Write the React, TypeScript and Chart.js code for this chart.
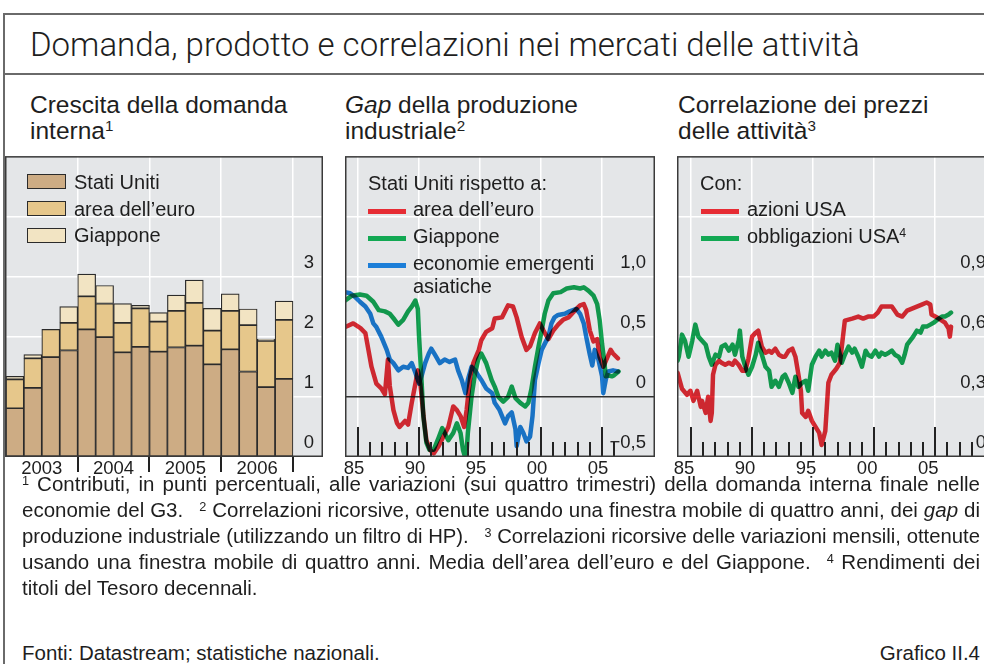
import React, { useEffect, useLayoutEffect, useRef } from 'react';
import { Chart, registerables } from 'chart.js';

Chart.register(...registerables);

const FONT = '"Liberation Sans", Arial, Helvetica, sans-serif';
const TITLE_FONT = 'Roboto, "Liberation Sans", Arial, sans-serif';
const TEXT = '#1e1e1e';
const PLOT_BG = '#e4e6e8';
const FRAME = '#3a3a3a';
const TICK = '#222222';
const OUTER = '#6a6a6a';

const US_COLOR = '#cdac84';
const EURO_COLOR = '#e6c78b';
const JAPAN_COLOR = '#f2e4c3';
const BAR_BORDER = '#2b2b2b';
const RED = '#e62c34';
const GREEN = '#12a853';
const BLUE = '#1c7ed8';

// ---------- Panel 1: Crescita della domanda interna ----------
const quarters = ['2003 T1', '2003 T2', '2003 T3', '2003 T4', '2004 T1', '2004 T2', '2004 T3', '2004 T4',
  '2005 T1', '2005 T2', '2005 T3', '2005 T4', '2006 T1', '2006 T2', '2006 T3', '2006 T4'];
const usContrib = [0.81, 1.15, 1.66, 1.77, 2.12, 1.99, 1.74, 1.83, 1.75, 1.82, 1.85, 1.54, 1.79, 1.42, 1.16, 1.30];
const euroContrib = [0.48, 0.49, 0.46, 0.46, 0.55, 0.56, 0.49, 0.64, 0.50, 0.61, 0.71, 0.56, 0.64, 0.77, 0.77, 0.98];
const japanContrib = [0.05, 0.06, 0.00, 0.27, 0.37, 0.30, 0.32, 0.05, 0.15, 0.26, 0.38, 0.37, 0.28, 0.27, 0.03, 0.31];
const demandYears = ['2003', '2004', '2005', '2006'];
const demandGrid = [0, 1, 2, 3, 4, 5];
const demandTickLabels = ['0', '1', '2', '3', '', ''];

// ---------- Panel 2: Gap della produzione industriale ----------
const gapEuroYears = [1983.95, 1984.6, 1985.2, 1985.6, 1985.85, 1986.1, 1986.5, 1986.9, 1987.2, 1987.45, 1987.6, 1987.9,
  1988.2, 1988.4, 1988.85, 1989.1, 1989.4, 1989.7, 1989.9, 1990.1, 1990.4, 1990.6, 1990.9, 1991.2, 1991.6, 1992.0,
  1992.4, 1992.8, 1993.1, 1993.4, 1993.7, 1993.9, 1994.2, 1994.45, 1994.9, 1995.1, 1995.5, 1996.0, 1996.2, 1996.8,
  1997.3, 1997.7, 1998.0, 1998.4, 1998.8, 1999.1, 1999.5, 1999.9, 2000.2, 2000.6, 2001.0, 2001.4, 2001.8, 2002.25,
  2002.8, 2003.2, 2003.5, 2003.7, 2004.0, 2004.3, 2004.6, 2004.8, 2005.1, 2005.4, 2005.7, 2005.9, 2006.3];
const gapEuroValues = [0.58, 0.61, 0.57, 0.53, 0.39, 0.25, 0.11, 0.07, 0.02, 0.31, 0.09, -0.11,
  -0.22, -0.25, -0.20, -0.23, -0.05, 0.11, 0.22, 0.11, -0.19, -0.36, -0.44, -0.47, -0.41, -0.33,
  -0.25, -0.08, -0.11, -0.16, -0.25, -0.11, 0.17, 0.28, 0.39, 0.47, 0.54, 0.57, 0.65, 0.66,
  0.76, 0.75, 0.66, 0.50, 0.39, 0.42, 0.53, 0.61, 0.55, 0.48, 0.55, 0.60, 0.64, 0.66,
  0.72, 0.76, 0.77, 0.72, 0.55, 0.46, 0.48, 0.33, 0.25, 0.32, 0.39, 0.36, 0.32];

const gapJapanYears = [1983.93, 1984.5, 1985.15, 1985.7, 1986.25, 1986.7, 1987.2, 1987.6, 1988.0, 1988.3, 1988.7, 1989.1,
  1989.4, 1989.7, 1989.9, 1990.0, 1990.2, 1990.35, 1990.6, 1990.85, 1991.2, 1991.6, 1991.9, 1992.1, 1992.4, 1992.8,
  1993.1, 1993.4, 1993.6, 1993.85, 1994.0, 1994.3, 1994.6, 1994.85, 1995.1, 1995.5, 1995.95, 1996.2, 1996.5, 1996.9,
  1997.3, 1997.6, 1997.9, 1998.3, 1998.7, 1998.96, 1999.2, 1999.5, 1999.8, 2000.05, 2000.3, 2000.6, 2001.0, 2001.6,
  2002.1, 2002.7, 2003.2, 2003.5, 2003.9, 2004.3, 2004.6, 2004.8, 2005.0, 2005.2, 2005.3, 2005.5, 2005.8, 2006.0, 2006.35];
const gapJapanValues = [0.80, 0.84, 0.85, 0.84, 0.79, 0.72, 0.71, 0.69, 0.64, 0.60, 0.64, 0.71,
  0.75, 0.80, 0.73, 0.50, 0.14, -0.16, -0.38, -0.44, -0.44, -0.34, -0.26, -0.30, -0.36, -0.30,
  -0.22, -0.30, -0.44, -0.53, -0.30, 0.00, 0.20, 0.31, 0.36, 0.28, 0.14, 0.085, 0.00, -0.04,
  0.00, 0.085, -0.01, -0.05, -0.08, -0.05, 0.06, 0.25, 0.42, 0.55, 0.69, 0.80, 0.86, 0.87,
  0.90, 0.91, 0.90, 0.91, 0.88, 0.84, 0.77, 0.64, 0.44, 0.28, 0.17, 0.18, 0.17, 0.18, 0.21];

const gapAsiaYears = [1983.93, 1984.35, 1984.75, 1985.15, 1985.6, 1986.0, 1986.25, 1986.5, 1986.9, 1987.35, 1987.6, 1987.9,
  1988.3, 1988.7, 1989.1, 1989.4, 1989.7, 1990.0, 1990.2, 1990.5, 1990.8, 1991.0, 1991.3, 1991.7, 1992.1, 1992.5,
  1992.95, 1993.2, 1993.5, 1993.8, 1994.0, 1994.3, 1994.6, 1994.9, 1995.1, 1995.5, 1996.0, 1996.2, 1996.6, 1997.05,
  1997.3, 1997.6, 1997.9, 1998.0, 1998.3, 1998.55, 1998.8, 1999.1, 1999.3, 1999.5, 1999.8, 2000.05, 2000.3, 2000.6,
  2000.85, 2001.1, 2001.4, 2001.95, 2002.35, 2002.9, 2003.2, 2003.5, 2003.7, 2004.0, 2004.2, 2004.4, 2004.7, 2005.0,
  2005.1, 2005.3, 2005.5, 2005.9, 2006.3];
const gapAsiaValues = [0.87, 0.86, 0.83, 0.79, 0.75, 0.69, 0.61, 0.58, 0.50, 0.39, 0.31, 0.28,
  0.22, 0.25, 0.24, 0.28, 0.20, 0.11, 0.17, 0.28, 0.36, 0.40, 0.35, 0.28, 0.31, 0.29,
  0.31, 0.22, 0.14, 0.03, 0.14, 0.25, 0.22, 0.17, 0.14, 0.07, 0.03, -0.05, -0.11, -0.22,
  -0.16, -0.13, -0.27, -0.41, -0.25, -0.30, -0.37, -0.33, -0.16, 0.14, 0.28, 0.39, 0.44, 0.50,
  0.61, 0.66, 0.68, 0.69, 0.71, 0.73, 0.69, 0.61, 0.50, 0.35, 0.26, 0.39, 0.31, 0.17,
  0.03, 0.14, 0.21, 0.22, 0.21];

const gapGrid = [-0.5, 0, 0.5, 1, 1.5, 2];
const gapTickLabels = ['−0,5', '0', '0,5', '1,0', '', ''];

// ---------- Panel 3: Correlazione dei prezzi delle attività ----------
const corrStockYears = [1983.9, 1984.26, 1984.67, 1984.95, 1985.2, 1985.5, 1985.8, 1985.9, 1986.2, 1986.4, 1986.6, 1986.7,
  1986.8, 1987.0, 1987.3, 1987.5, 1987.8, 1988.1, 1988.4, 1988.6, 1988.9, 1989.2, 1989.45, 1989.7, 1990.0, 1990.3,
  1990.5, 1990.8, 1991.1, 1991.4, 1991.6, 1991.9, 1992.2, 1992.5, 1992.7, 1993.0, 1993.3, 1993.55, 1993.8, 1994.0,
  1994.1, 1994.4, 1994.6, 1994.9, 1995.2, 1995.5, 1995.7, 1996.0, 1996.25, 1996.5, 1996.9, 1997.2, 1997.35, 1997.6,
  1998.2, 1998.7, 1999.1, 1999.5, 1999.95, 2000.3, 2000.6, 2001.0, 2001.45, 2001.9, 2002.3, 2002.7, 2003.1, 2003.5,
  2003.9, 2004.3, 2004.6, 2004.7, 2005.0, 2005.3, 2005.55, 2005.8, 2006.1, 2006.2, 2006.3];
const corrStockValues = [0.42, 0.34, 0.31, 0.33, 0.28, 0.33, 0.25, 0.28, 0.22, 0.30, 0.18, 0.22,
  0.41, 0.46, 0.48, 0.47, 0.46, 0.47, 0.46, 0.48, 0.46, 0.43, 0.43, 0.49, 0.60, 0.62,
  0.63, 0.55, 0.52, 0.53, 0.52, 0.54, 0.51, 0.50, 0.50, 0.53, 0.54, 0.50, 0.41, 0.33,
  0.22, 0.20, 0.23, 0.18, 0.15, 0.12, 0.06, 0.13, 0.37, 0.41, 0.44, 0.47, 0.55, 0.68,
  0.69, 0.70, 0.69, 0.70, 0.70, 0.72, 0.75, 0.75, 0.75, 0.71, 0.70, 0.73, 0.74, 0.75,
  0.76, 0.77, 0.76, 0.71, 0.70, 0.69, 0.68, 0.67, 0.64, 0.60, 0.65];

const corrBondYears = [1983.9, 1984.0, 1984.26, 1984.5, 1984.8, 1985.1, 1985.35, 1985.6, 1985.9, 1986.2, 1986.45, 1986.7,
  1987.0, 1987.3, 1987.5, 1987.8, 1988.1, 1988.4, 1988.6, 1988.9, 1989.0, 1989.2, 1989.45, 1989.7, 1990.0, 1990.3,
  1990.5, 1990.8, 1991.1, 1991.4, 1991.6, 1991.9, 1992.2, 1992.5, 1992.7, 1993.0, 1993.3, 1993.55, 1993.8, 1994.1,
  1994.4, 1994.6, 1994.9, 1995.2, 1995.5, 1995.7, 1996.0, 1996.25, 1996.5, 1996.8, 1997.0, 1997.35, 1997.6, 1997.9,
  1998.2, 1998.4, 1998.7, 1999.0, 1999.3, 1999.5, 1999.8, 2000.1, 2000.4, 2000.6, 2000.9, 2001.2, 2001.45, 2001.7,
  2002.0, 2002.3, 2002.5, 2002.7, 2002.95, 2003.2, 2003.5, 2003.8, 2004.0, 2004.3, 2004.6, 2004.9, 2005.3, 2005.55,
  2005.8, 2006.1, 2006.3];
const corrBondValues = [0.48, 0.50, 0.61, 0.58, 0.50, 0.58, 0.66, 0.60, 0.58, 0.56, 0.50, 0.46,
  0.51, 0.50, 0.55, 0.56, 0.53, 0.56, 0.51, 0.58, 0.63, 0.50, 0.45, 0.41, 0.45, 0.51,
  0.57, 0.51, 0.45, 0.43, 0.35, 0.38, 0.35, 0.40, 0.41, 0.37, 0.32, 0.40, 0.35, 0.37,
  0.38, 0.33, 0.46, 0.50, 0.53, 0.50, 0.53, 0.51, 0.52, 0.48, 0.56, 0.47, 0.51, 0.55,
  0.52, 0.54, 0.50, 0.45, 0.53, 0.51, 0.50, 0.53, 0.50, 0.52, 0.51, 0.52, 0.53, 0.51,
  0.50, 0.47, 0.51, 0.56, 0.58, 0.60, 0.63, 0.62, 0.65, 0.65, 0.66, 0.67, 0.69, 0.70,
  0.70, 0.71, 0.72];

const corrGrid = [0, 0.3, 0.6, 0.9, 1.2, 1.5];
const corrTickLabels = ['0', '0,3', '0,6', '0,9', '', ''];

// shared time axis
const fiveYearTicks = [1985, 1990, 1995, 2000, 2005];
const fiveYearLabels = ['85', '90', '95', '00', '05'];
const gapYearMarks = [1985, 1986, 1987, 1988, 1989, 1990, 1991, 1992, 1993, 1994, 1995, 1996, 1997, 1998, 1999,
  2000, 2001, 2002, 2003, 2004, 2005, 2006];
const corrYearMarks = [1985, 1986, 1987, 1988, 1989, 1990, 1991, 1992, 1993, 1994, 1995, 1996, 1997, 1998, 1999,
  2000, 2001, 2002, 2003, 2004, 2005, 2006, 2007, 2008];

const LABEL_AREA = 26;
const PLOT_H = 303;
const PAD_L = 12;

const pairs = (xs: number[], ys: number[]) => xs.map((x, i) => ({ x, y: ys[i] }));

const panelPlugin = {
  id: 'panelFrame',
  beforeDraw(chart: any) {
    const { ctx, chartArea: a } = chart;
    ctx.save();
    ctx.fillStyle = PLOT_BG;
    ctx.fillRect(a.left, a.top, a.right - a.left, a.bottom - a.top);
    ctx.restore();
  },
  beforeDatasetsDraw(chart: any, _args: any, opts: any) {
    if (opts && opts.multiply) {
      chart.ctx.save();
      chart.ctx.globalCompositeOperation = 'multiply';
    }
  },
  afterDatasetsDraw(chart: any, _args: any, opts: any) {
    if (opts && opts.multiply) chart.ctx.restore();
  },
  afterDraw(chart: any, _args: any, opts: any) {
    const { ctx, chartArea: a, scales } = chart;
    const xs = scales.x;
    ctx.save();
    ctx.strokeStyle = TICK;
    ctx.lineWidth = 2;
    const marks = (opts && opts.marks) || [];
    for (let i = 0; i < marks.length; i++) {
      const m = marks[i];
      const px = Math.round(xs.getPixelForValue(m.value));
      ctx.beginPath();
      ctx.moveTo(px, a.bottom);
      ctx.lineTo(px, a.bottom + m.len);
      ctx.stroke();
    }
    ctx.strokeStyle = FRAME;
    ctx.lineWidth = 1.5;
    ctx.strokeRect(a.left + 0.75, a.top + 0.75, a.right - a.left - 1.5, a.bottom - a.top - 1.5);
    ctx.restore();
  },
};

function yAxis(min: number, max: number, grid: number[], labels: string[], zeroDark: boolean) {
  return {
    type: 'linear',
    position: 'right',
    min,
    max,
    afterBuildTicks: (s: any) => { s.ticks = grid.map((v) => ({ value: v })); },
    afterFit: (s: any) => { s.width = 0; },
    border: { display: false },
    grid: {
      drawTicks: false,
      lineWidth: 1.5,
      color: (c: any) => {
        const v = c.tick ? c.tick.value : NaN;
        if (v === min || v === max) return 'rgba(0,0,0,0)';
        if (v === 0 && zeroDark) return '#333333';
        return '#ffffff';
      },
    },
    ticks: {
      mirror: true,
      padding: -9,
      labelOffset: -14,
      autoSkip: false,
      color: TEXT,
      font: { family: FONT, size: 18.5 },
      callback: (_v: any, i: number) => labels[i],
    },
  };
}

function timeAxis(min: number, max: number, labelOffset: number) {
  return {
    type: 'linear',
    min,
    max,
    offset: false,
    afterBuildTicks: (s: any) => { s.ticks = fiveYearTicks.map((v) => ({ value: v })); },
    afterFit: (s: any) => { s.height = LABEL_AREA; },
    border: { display: false },
    grid: { drawTicks: false, lineWidth: 1.5, color: '#ffffff', offset: false },
    ticks: {
      padding: 1,
      labelOffset,
      maxRotation: 0,
      autoSkip: false,
      color: TEXT,
      font: { family: FONT, size: 18.5 },
      callback: (_v: any, i: number) => fiveYearLabels[i],
    },
  };
}

function lineDataset(xs: number[], ys: number[], color: string) {
  return {
    type: 'line',
    data: pairs(xs, ys),
    borderColor: color,
    backgroundColor: color,
    borderWidth: 4.5,
    pointRadius: 0,
    tension: 0,
    fill: false,
    clip: 0,
    borderJoinStyle: 'round',
    borderCapStyle: 'round',
  };
}

const baseOptions = {
  responsive: false,
  animation: false,
  devicePixelRatio: 1,
  events: [],
};

function demandConfig(): any {
  const barDs = (vals: number[], color: string) => ({
    data: quarters.map((_q, i) => ({ x: i + 0.5, y: vals[i] })),
    backgroundColor: color,
    borderColor: BAR_BORDER,
    borderWidth: 1.2,
    borderSkipped: false,
    categoryPercentage: 1,
    barPercentage: 1,
  });
  const xGrid = demandYears.flatMap((_y, i) => [i * 4 + 2, i * 4 + 4]);
  const xLabels = demandYears.flatMap((y) => [y, '']);
  return {
    type: 'bar',
    data: {
      datasets: [barDs(usContrib, US_COLOR), barDs(euroContrib, EURO_COLOR), barDs(japanContrib, JAPAN_COLOR)],
    },
    options: {
      ...baseOptions,
      layout: { padding: 0, autoPadding: false },
      scales: {
        x: {
          type: 'linear',
          min: -0.05,
          max: 17.67,
          stacked: true,
          offset: false,
          afterBuildTicks: (s: any) => { s.ticks = xGrid.map((v) => ({ value: v })); },
          afterFit: (s: any) => { s.height = LABEL_AREA; },
          border: { display: false },
          grid: {
            drawTicks: false,
            offset: false,
            lineWidth: 1.5,
            color: (c: any) => (c.tick && c.tick.value % 4 === 0 ? '#ffffff' : 'rgba(0,0,0,0)'),
          },
          ticks: {
            padding: 1,
            maxRotation: 0,
            autoSkip: false,
            color: TEXT,
            font: { family: FONT, size: 18.5 },
            callback: (_v: any, i: number) => xLabels[i],
          },
        },
        y: { ...yAxis(0, 5, demandGrid, demandTickLabels, false), stacked: true },
      },
      plugins: {
        legend: { display: false },
        tooltip: { enabled: false },
        panelFrame: { marks: [4, 8, 12, 16].map((v) => ({ value: v, len: 15 })), multiply: false },
      },
    },
    plugins: [panelPlugin],
  };
}

function gapConfig(): any {
  return {
    type: 'line',
    data: {
      datasets: [
        lineDataset(gapEuroYears, gapEuroValues, RED),
        lineDataset(gapJapanYears, gapJapanValues, GREEN),
        lineDataset(gapAsiaYears, gapAsiaValues, BLUE),
      ],
    },
    options: {
      ...baseOptions,
      layout: { padding: { left: PAD_L, right: 0, top: 0, bottom: 0 }, autoPadding: false },
      scales: {
        x: timeAxis(1983.93, 2009.34, -4),
        y: yAxis(-0.5, 2, gapGrid, gapTickLabels, true),
      },
      plugins: {
        legend: { display: false },
        tooltip: { enabled: false },
        panelFrame: { marks: gapYearMarks.map((v) => ({ value: v, len: v % 5 === 0 ? -30 : -15 })), multiply: true },
      },
    },
    plugins: [panelPlugin],
  };
}

function corrConfig(): any {
  return {
    type: 'line',
    data: {
      datasets: [
        lineDataset(corrBondYears, corrBondValues, GREEN),
        lineDataset(corrStockYears, corrStockValues, RED),
      ],
    },
    options: {
      ...baseOptions,
      layout: { padding: { left: PAD_L, right: 0, top: 0, bottom: 0 }, autoPadding: false },
      scales: {
        x: timeAxis(1983.85, 2009.9, -7),
        y: yAxis(0, 1.5, corrGrid, corrTickLabels, false),
      },
      plugins: {
        legend: { display: false },
        tooltip: { enabled: false },
        panelFrame: { marks: corrYearMarks.map((v) => ({ value: v, len: v % 5 === 0 ? -30 : -15 })), multiply: true },
      },
    },
    plugins: [panelPlugin],
  };
}

function ChartBox({ left, width, make, padLeft = 0 }: { left: number; width: number; make: () => any; padLeft?: number }) {
  const ref = useRef<HTMLCanvasElement | null>(null);
  const height = PLOT_H + LABEL_AREA;
  const w = width + padLeft;
  useEffect(() => {
    if (!ref.current) return;
    const chart = new Chart(ref.current, make());
    return () => chart.destroy();
  }, []);
  return (
    <div style={{ position: 'absolute', left: left - padLeft, top: 154, width: w, height }}>
      <canvas ref={ref} width={w} height={height} style={{ width: w, height, display: 'block' }} />
    </div>
  );
}

function T({ x, cy, size, children, style }: any) {
  const lh = Math.round(size * 1.2);
  return (
    <div style={{ position: 'absolute', left: x, top: cy - lh / 2, fontSize: size, lineHeight: `${lh}px`,
      whiteSpace: 'nowrap', color: TEXT, ...style }}>{children}</div>
  );
}

function Sup({ children }: any) {
  return <span style={{ fontSize: '0.62em', verticalAlign: '0.5em', lineHeight: 0 }}>{children}</span>;
}

function Gap() {
  return <span style={{ display: 'inline-block', width: 16 }} />;
}

function JLine({ children, width, last }: any) {
  const ref = useRef<HTMLSpanElement | null>(null);
  useLayoutEffect(() => {
    const el = ref.current;
    if (!el || last) return;
    el.style.wordSpacing = '0px';
    el.style.transform = '';
    const w = el.getBoundingClientRect().width;
    const spaces = ((el.textContent || '').match(/ /g) || []).length;
    if (w < width && spaces) el.style.wordSpacing = `${(width - w) / spaces}px`;
    else if (w > width) el.style.transform = `scaleX(${width / w})`;
  }, []);
  return (
    <div style={{ height: 26, lineHeight: '26px', whiteSpace: 'nowrap' }}>
      <span ref={ref} style={{ display: 'inline-block', transformOrigin: 'left center' }}>{children}</span>
    </div>
  );
}

function LegendBox({ x, cy, color }: any) {
  return <div style={{ position: 'absolute', left: x, top: cy - 7.5, width: 39, height: 15, boxSizing: 'border-box',
    background: color, border: `1.5px solid ${BAR_BORDER}` }} />;
}

function LegendLine({ x, cy, color }: any) {
  return <div style={{ position: 'absolute', left: x, top: cy - 2.5, width: 38, height: 5, background: color }} />;
}

export default function App() {
  useEffect(() => { document.body.style.margin = '0'; }, []);
  const FN = 958;
  return (
    <div style={{ position: 'absolute', left: 0, top: 0, width: 984, height: 664, overflow: 'hidden', background: '#fff',
      fontFamily: FONT, color: TEXT }}>
      <div style={{ position: 'absolute', left: 3, top: 13, width: 1100, height: 800, borderLeft: `2px solid ${OUTER}`,
        borderTop: `2px solid ${OUTER}` }} />
      <div style={{ position: 'absolute', left: 4, top: 73, width: 1100, height: 0, borderTop: `2px solid ${OUTER}` }} />

      <T x={30} cy={45} size={33} style={{ fontFamily: TITLE_FONT, fontWeight: 300 }}>
        Domanda, prodotto e correlazioni nei mercati delle attività
      </T>

      <T x={30} cy={104} size={24.5}>Crescita della domanda</T>
      <T x={30} cy={130} size={24.5}>interna<Sup>1</Sup></T>
      <T x={345} cy={104} size={24.5}><i>Gap</i> della produzione</T>
      <T x={345} cy={130} size={24.5}>industriale<Sup>2</Sup></T>
      <T x={678} cy={104} size={24.5}>Correlazione dei prezzi</T>
      <T x={678} cy={130} size={24.5}>delle attività<Sup>3</Sup></T>

      <ChartBox left={5} width={318} make={demandConfig} />
      <ChartBox left={345} width={310} make={gapConfig} padLeft={PAD_L} />
      <ChartBox left={677} width={318} make={corrConfig} padLeft={PAD_L} />

      {/* Panel 1 legend */}
      <LegendBox x={27} cy={181.7} color={US_COLOR} />
      <LegendBox x={27} cy={208.3} color={EURO_COLOR} />
      <LegendBox x={27} cy={235} color={JAPAN_COLOR} />
      <T x={74} cy={182} size={20}>Stati Uniti</T>
      <T x={74} cy={208.5} size={20}>area dell’euro</T>
      <T x={74} cy={235} size={20}>Giappone</T>

      {/* Panel 2 legend */}
      <T x={368} cy={183} size={20}>Stati Uniti rispetto a:</T>
      <LegendLine x={368} cy={211.7} color={RED} />
      <LegendLine x={368} cy={238.3} color={GREEN} />
      <LegendLine x={368} cy={265} color={BLUE} />
      <T x={413} cy={209.3} size={20}>area dell’euro</T>
      <T x={413} cy={236} size={20}>Giappone</T>
      <T x={413} cy={262.7} size={20}>economie emergenti</T>
      <T x={413} cy={286} size={20}>asiatiche</T>

      {/* Panel 3 legend */}
      <T x={700} cy={183} size={20}>Con:</T>
      <LegendLine x={701} cy={211.7} color={RED} />
      <LegendLine x={701} cy={238.3} color={GREEN} />
      <T x={747} cy={209.3} size={20}>azioni USA</T>
      <T x={747} cy={236} size={20}>obbligazioni USA<Sup>4</Sup></T>

      {/* Footnotes */}
      <div style={{ position: 'absolute', left: 22, top: 471, width: FN, fontSize: 20.5 }}>
        <JLine width={FN}><Sup>1</Sup> Contributi, in punti percentuali, alle variazioni (sui quattro trimestri) della domanda interna finale nelle</JLine>
        <JLine width={FN}>economie del G3.<Gap /><Sup>2</Sup> Correlazioni ricorsive, ottenute usando una finestra mobile di quattro anni, dei <i>gap</i> di</JLine>
        <JLine width={FN}>produzione industriale (utilizzando un filtro di HP).<Gap /><Sup>3</Sup> Correlazioni ricorsive delle variazioni mensili, ottenute</JLine>
        <JLine width={FN}>usando una finestra mobile di quattro anni. Media dell’area dell’euro e del Giappone.<Gap /><Sup>4</Sup> Rendimenti dei</JLine>
        <JLine width={FN} last>titoli del Tesoro decennali.</JLine>
      </div>
      <T x={22} cy={652} size={20.5}>Fonti: Datastream; statistiche nazionali.</T>
      <T x={0} cy={652} size={20.5} style={{ left: 'auto', right: 4, textAlign: 'right' }}>Grafico II.4</T>
    </div>
  );
}
